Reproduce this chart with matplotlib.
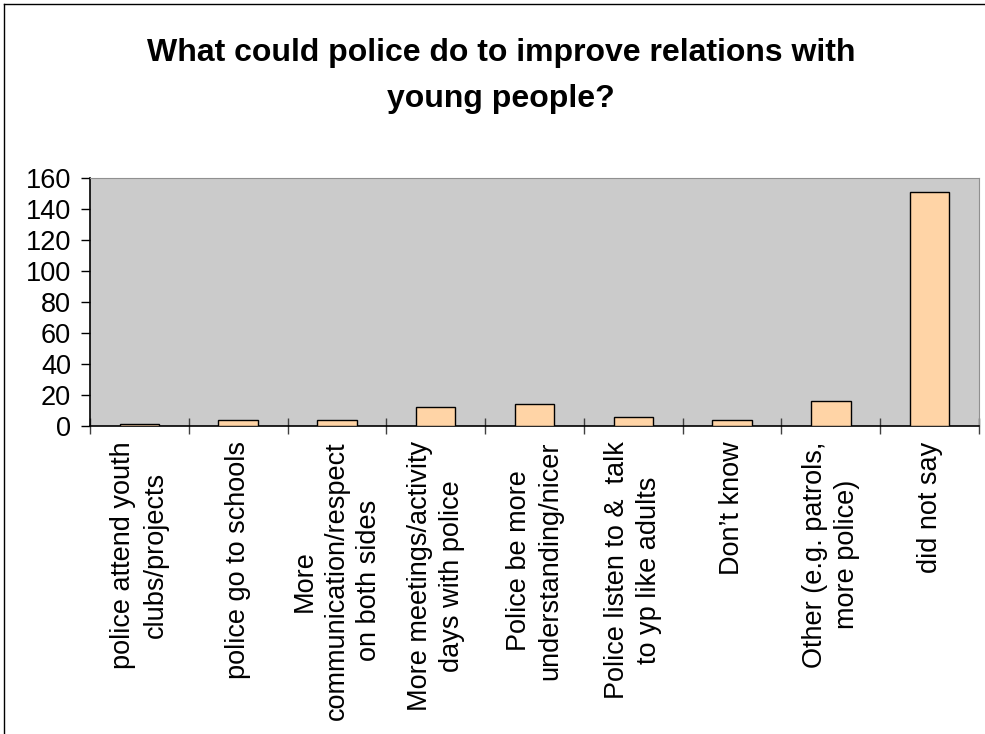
import matplotlib
matplotlib.use("Agg")
import matplotlib.pyplot as plt
from matplotlib.lines import Line2D
import numpy as np

plt.rcParams['font.family'] = ['Liberation Sans', 'DejaVu Sans']

# данные
categories = [
    "police attend youth\nclubs/projects",
    "police go to schools",
    "More\ncommunication/respect\non both sides",
    "More meetings/activity\ndays with police",
    "Police be more\nunderstanding/nicer",
    "Police listen to &  talk\nto yp like adults",
    "Don\u2019t know",
    "Other (e.g. patrols,\nmore police)",
    "did not say",
]
counts = [1, 4, 4, 12, 14, 6, 4, 16, 151]
yticks = [0, 20, 40, 60, 80, 100, 120, 140, 160]
title = "What could police do to improve relations with\nyoung people?"

fig = plt.figure(figsize=(9.85, 7.34), dpi=100)
ax = fig.add_axes([90 / 985, 1 - 426 / 734, (979 - 90) / 985, (426 - 178) / 734])

x = np.arange(len(categories))
ax.bar(x, counts, width=0.4, color="#FFD4A6", edgecolor="black", linewidth=1.0, zorder=3)

ax.set_facecolor("#CBCBCB")
ax.set_xlim(-0.5, len(categories) - 0.5)
ax.set_ylim(0, 160)
ax.set_yticks(yticks)
ax.tick_params(axis="y", labelsize=19.5, length=6.5, width=1, direction="out", pad=7)

ax.set_xticks(x)
ax.set_xticklabels(categories, rotation=90, fontsize=19.5, ha="center", va="top",
                   multialignment="center", linespacing=1.3)
ax.tick_params(axis="x", which="major", length=0, pad=11)
ax.set_xticks(np.arange(len(categories) + 1) - 0.5, minor=True)
ax.tick_params(axis="x", which="minor", length=11.5, width=1, direction="inout",
               color="#404040")

ax.spines["top"].set_color("#909090")
ax.spines["right"].set_color("#909090")
ax.spines["left"].set_linewidth(1.2)
ax.spines["bottom"].set_linewidth(1.2)

fig.text(501 / 985, 1 - 107 / 734, title, ha="center", va="baseline",
         fontsize=23, fontweight="bold", linespacing=1.7)

# рамка диаграммы (слева и сверху)
fig.add_artist(Line2D([4 / 985, 4 / 985], [0, 1 - 4 / 734], color="black", linewidth=1))
fig.add_artist(Line2D([4 / 985, 1], [1 - 4 / 734, 1 - 4 / 734], color="black", linewidth=1))

plt.savefig("out.png", dpi=100)
